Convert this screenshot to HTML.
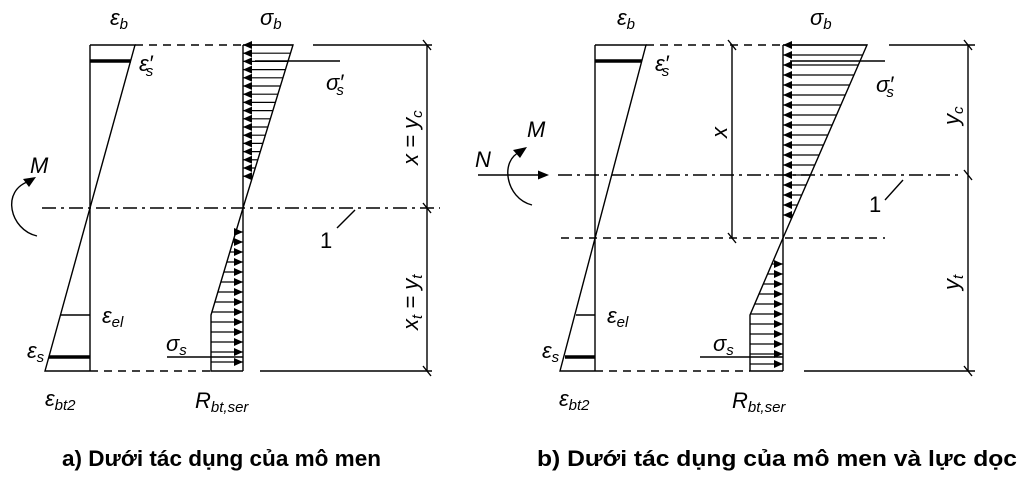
<!DOCTYPE html>
<html><head><meta charset="utf-8"><style>
html,body{margin:0;padding:0;background:#fff;}
svg{display:block;}
text{font-family:"Liberation Sans",Arial,sans-serif;fill:#000;}
.i{font-style:italic;font-size:22px;}
.s{font-size:15px;}
</style></head><body>
<svg id="g" width="1024" height="479" viewBox="0 0 1024 479" xmlns="http://www.w3.org/2000/svg">
<g stroke="#000" stroke-width="1.4" fill="none">
<!-- LEFT PANEL -->
<line x1="90" y1="45" x2="90" y2="371"/>
<polyline points="90,45 135,45 45,371 90,371"/>
<line x1="90" y1="61" x2="131" y2="61" stroke-width="3.5"/>
<line x1="49" y1="357" x2="90" y2="357" stroke-width="3.5"/>
<line x1="61" y1="315" x2="90" y2="315"/>
<line x1="135" y1="45" x2="243" y2="45" stroke-dasharray="8,6"/>
<line x1="90" y1="371" x2="211" y2="371" stroke-dasharray="8,6"/>
<line x1="243" y1="45" x2="243" y2="371"/>
<polyline points="243,45 293,45 243,208 211,315 211,371 243,371"/>
<line x1="255" y1="61" x2="340" y2="61"/>
<line x1="167" y1="357" x2="243" y2="357"/>
<line x1="313" y1="45" x2="432" y2="45"/>
<line x1="260" y1="371" x2="432" y2="371"/>
<line x1="427" y1="45" x2="427" y2="371"/>
<line x1="423" y1="40" x2="431" y2="50"/>
<line x1="423" y1="203" x2="431" y2="213"/>
<line x1="423" y1="366" x2="431" y2="376"/>
<line x1="42" y1="208" x2="440" y2="208" stroke-dasharray="14,5,3,5"/>
<line x1="337" y1="228" x2="355" y2="210"/>
<path d="M37,236 C10,230 0,190 30,181"/>
<!-- RIGHT PANEL -->
<line x1="595" y1="45" x2="595" y2="371"/>
<polyline points="595,45 646,45 560,371 595,371"/>
<line x1="595" y1="61" x2="642" y2="61" stroke-width="3.5"/>
<line x1="565" y1="357" x2="595" y2="357" stroke-width="3.5"/>
<line x1="576" y1="315" x2="595" y2="315"/>
<line x1="646" y1="45" x2="783" y2="45" stroke-dasharray="8,6"/>
<line x1="595" y1="371" x2="750" y2="371" stroke-dasharray="8,6"/>
<line x1="783" y1="45" x2="783" y2="371"/>
<polyline points="783,45 867,45 783,238 750,315 750,371 783,371"/>
<line x1="790" y1="61" x2="885" y2="61"/>
<line x1="700" y1="357" x2="783" y2="357"/>
<line x1="732" y1="45" x2="732" y2="238"/>
<line x1="728" y1="40" x2="736" y2="50"/>
<line x1="728" y1="233" x2="736" y2="243"/>
<line x1="561" y1="238" x2="885" y2="238" stroke-dasharray="8,6"/>
<line x1="558" y1="175" x2="962" y2="175" stroke-dasharray="14,5,3,5"/>
<line x1="889" y1="45" x2="975" y2="45"/>
<line x1="804" y1="371" x2="975" y2="371"/>
<line x1="968" y1="45" x2="968" y2="371"/>
<line x1="964" y1="40" x2="972" y2="50"/>
<line x1="964" y1="170" x2="972" y2="180"/>
<line x1="964" y1="366" x2="972" y2="376"/>
<line x1="885" y1="200" x2="903" y2="180"/>
<line x1="478" y1="175" x2="540" y2="175"/>
<path d="M532,205 C505,198 500,160 520,152"/>
</g>
<g fill="#000">
<polygon points="36,177 23,179 29,187"/>
<polygon points="549,175 538,170.5 538,179.5"/>
<polygon points="527,147 513,150 520,158"/>
</g>
<g id="arr" stroke="#000" stroke-width="1.2" fill="#000"></g>
<!-- labels left -->
<text class="i" x="110" y="25">ε<tspan class="s" dy="4">b</tspan></text>
<text class="i" x="260" y="25">σ<tspan class="s" dy="4">b</tspan></text>
<text class="i" x="139" y="71">ε′<tspan class="s" dy="5" dx="-7">s</tspan></text>
<text class="i" x="326" y="90">σ′<tspan class="s" dy="5" dx="-7">s</tspan></text>
<text class="i" x="102" y="323">ε<tspan class="s" dy="4">el</tspan></text>
<text class="i" x="27" y="358">ε<tspan class="s" dy="4">s</tspan></text>
<text class="i" x="45" y="406">ε<tspan class="s" dy="4">bt2</tspan></text>
<text class="i" x="195" y="408">R<tspan class="s" dy="4">bt,ser</tspan></text>
<text class="i" x="166" y="351">σ<tspan class="s" dy="4">s</tspan></text>
<text class="i" x="30" y="173">M</text>
<text x="320" y="248" style="font-size:22px">1</text>
<text class="i" transform="translate(418,165) rotate(-90)">x = y<tspan class="s" dy="4">c</tspan></text>
<text class="i" transform="translate(418,330) rotate(-90)">x<tspan class="s" dy="4">t</tspan><tspan dy="-4"> = y</tspan><tspan class="s" dy="4">t</tspan></text>
<!-- labels right -->
<text class="i" x="617" y="25">ε<tspan class="s" dy="4">b</tspan></text>
<text class="i" x="810" y="25">σ<tspan class="s" dy="4">b</tspan></text>
<text class="i" x="655" y="71">ε′<tspan class="s" dy="5" dx="-7">s</tspan></text>
<text class="i" x="876" y="92">σ′<tspan class="s" dy="5" dx="-7">s</tspan></text>
<text class="i" x="607" y="323">ε<tspan class="s" dy="4">el</tspan></text>
<text class="i" x="542" y="358">ε<tspan class="s" dy="4">s</tspan></text>
<text class="i" x="559" y="406">ε<tspan class="s" dy="4">bt2</tspan></text>
<text class="i" x="732" y="408">R<tspan class="s" dy="4">bt,ser</tspan></text>
<text class="i" x="713" y="351">σ<tspan class="s" dy="4">s</tspan></text>
<text class="i" x="527" y="137">M</text>
<text class="i" x="475" y="167">N</text>
<text x="869" y="212" style="font-size:22px">1</text>
<text class="i" transform="translate(727,138) rotate(-90)">x</text>
<text class="i" transform="translate(959,125) rotate(-90)">y<tspan class="s" dy="4">c</tspan></text>
<text class="i" transform="translate(959,290) rotate(-90)">y<tspan class="s" dy="4">t</tspan></text>
<!-- captions -->
<text x="62" y="466" style="font-size:22px;font-weight:bold" textLength="319" lengthAdjust="spacingAndGlyphs">a) Dưới tác dụng của mô men</text>
<text x="537" y="466" style="font-size:22px;font-weight:bold" textLength="480" lengthAdjust="spacingAndGlyphs">b) Dưới tác dụng của mô men và lực dọc</text>
</svg>
<script>
(function(){
var g=document.getElementById('arr'),h='';
function comp(x0,top,bot,xt,y0,y1,step){
 for(var y=y0;y<=y1;y+=step){var xe=x0+(xt-x0)*(bot-y)/(bot-top);
  if(xe-x0<9)continue;
  h+='<line x1="'+x0+'" y1="'+y+'" x2="'+xe.toFixed(1)+'" y2="'+y+'"/>';
  h+='<polygon stroke="none" points="'+x0+','+y+' '+(x0+9)+','+(y-4)+' '+(x0+9)+','+(y+4)+'"/>';}
}
function tens(x0,pts,y0,y1,step){
 for(var y=y0;y<=y1;y+=step){var xe;
  if(y<=pts[2])xe=x0+(pts[1]-x0)*(y-pts[0])/(pts[2]-pts[0]);else xe=pts[1];
  h+='<line x1="'+xe.toFixed(1)+'" y1="'+y+'" x2="'+x0+'" y2="'+y+'"/>';
  h+='<polygon stroke="none" points="'+x0+','+y+' '+(x0-9)+','+(y-4)+' '+(x0-9)+','+(y+4)+'"/>';}
}
comp(243,45,208,293,45,200,8.2);
tens(243,[208,211,315],232,370,10);
comp(783,45,238,867,45,218,10);
tens(783,[238,750,315],264,370,10);
g.innerHTML=h;
})();
</script>
</body></html>
